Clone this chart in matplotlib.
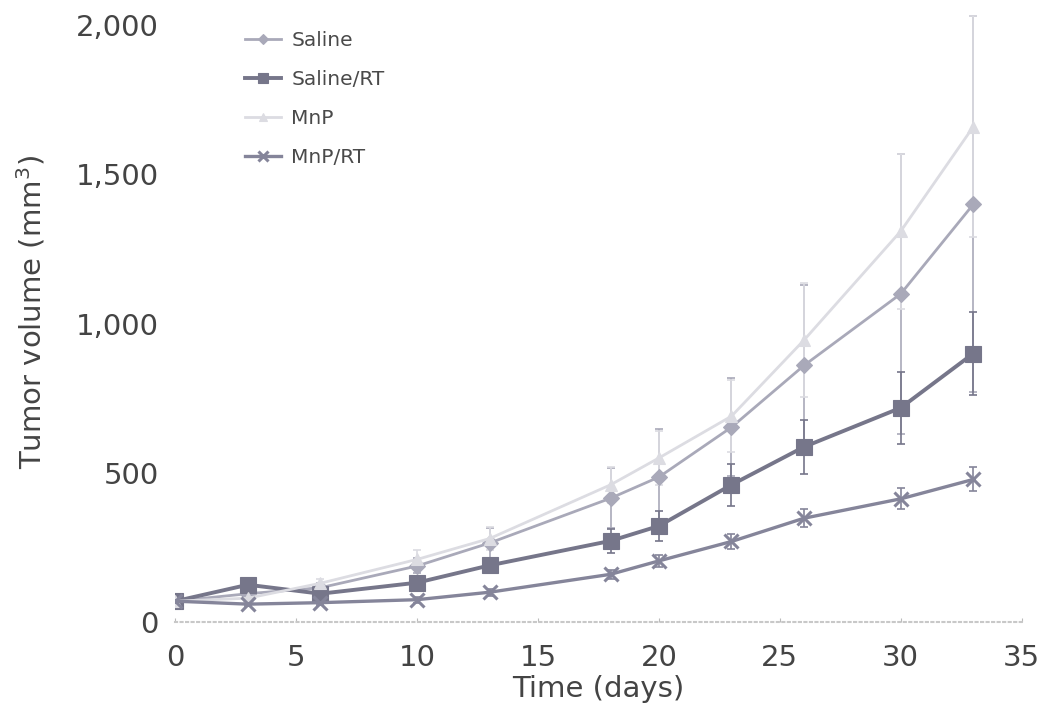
import matplotlib
matplotlib.use("Agg")
import matplotlib.pyplot as plt
from matplotlib.ticker import FuncFormatter

plt.rcParams["font.family"] = ["DejaVu Sans"]

days = [0, 3, 6, 10, 13, 18, 20, 23, 26, 30, 33]

saline = [70, 95, 115, 188, 265, 415, 486, 653, 860, 1100, 1400]
saline_err = [5, 10, 15, 25, 50, 100, 160, 165, 270, 470, 630]

saline_rt = [70, 125, 95, 132, 190, 272, 322, 460, 587, 718, 900]
saline_rt_err = [5, 10, 10, 15, 25, 40, 50, 70, 90, 120, 140]

mnp = [70, 80, 130, 210, 280, 460, 550, 690, 945, 1310, 1660]
mnp_err = [5, 10, 15, 30, 40, 60, 90, 120, 190, 260, 370]

mnp_rt = [70, 60, 65, 75, 100, 160, 205, 270, 348, 413, 478]
mnp_rt_err = [5, 5, 8, 10, 12, 15, 20, 25, 30, 35, 40]

fig = plt.figure(figsize=(10.5, 7.15), dpi=100)
ax = fig.add_axes([0.167, 0.13, 0.806, 0.868])

series = [
    ("Saline", saline, saline_err, "D", "#a9a9b9", 8, 2.0),
    ("Saline/RT", saline_rt, saline_rt_err, "s", "#76768a", 11, 2.8),
    ("MnP", mnp, mnp_err, "^", "#dcdce2", 9, 2.0),
    ("MnP/RT", mnp_rt, mnp_rt_err, "x", "#85859a", 10, 2.4),
]

for label, vals, errs, mk, col, ms, lw in series:
    ax.errorbar(days, vals, yerr=errs, fmt="none", ecolor=col, elinewidth=1.2,
                capsize=3, capthick=1.2, linestyle=":", zorder=2)
    ax.plot(days, vals, marker=mk, color=col, markersize=ms, linewidth=lw,
            markeredgewidth=2.2 if mk == "x" else 0.8, label=label, zorder=3)

ax.set_xlim(0, 35)
ax.set_ylim(0, 2080)
ax.set_xticks(range(0, 36, 5))
ax.set_yticks([0, 500, 1000, 1500, 2000])
ax.yaxis.set_major_formatter(FuncFormatter(lambda v, p: f"{int(v):,}"))
ax.tick_params(axis="y", labelsize=21, colors="#444444", length=0, pad=12)
ax.tick_params(axis="x", labelsize=21, labelcolor="#444444", length=3,
               direction="in", color="#bbbbbb", pad=16)

for s in ["top", "right", "left"]:
    ax.spines[s].set_visible(False)
ax.spines["bottom"].set_color("#c8c8c8")
ax.spines["bottom"].set_linestyle(":")
ax.spines["bottom"].set_linewidth(1.5)

ax.set_xlabel("Time (days)", fontsize=21, color="#444444", labelpad=2)
ax.set_ylabel("Tumor volume (mm$^3$)", fontsize=21, color="#444444", labelpad=20)

leg = ax.legend(loc="upper left", bbox_to_anchor=(245 / 1050, 1 - 31 / 715),
                bbox_transform=fig.transFigure, borderaxespad=0, borderpad=0,
                frameon=False, fontsize=14.5, handlelength=1.8, handletextpad=0.5,
                labelspacing=1.0, markerscale=0.7)
for t in leg.get_texts():
    t.set_color("#4a4a4a")

plt.savefig("out.png", dpi=100)
